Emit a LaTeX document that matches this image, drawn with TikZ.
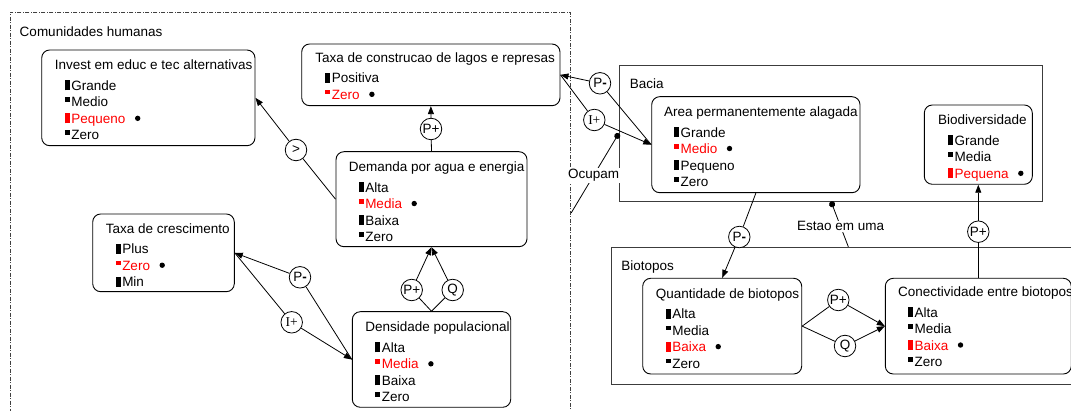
\documentclass[tikz,border=0pt]{standalone}
\usepackage{fontspec}
\setmainfont{Liberation Sans}
\newfontfamily\serfont{Liberation Serif}
\usepackage{xcolor}
\usetikzlibrary{arrows.meta, positioning}

\definecolor{qRed}{RGB}{255,0,0}
\definecolor{qFrame}{RGB}{60,60,60}

% value markers: tall bar / small square, then the current-value dot
\newcommand{\mkBar}{\rule{5pt}{10pt}}
\newcommand{\mkSq}{\rule[5pt]{5pt}{4.5pt}}
\newcommand{\itm}[2]{\hspace*{10pt}#1\hspace{1.5pt}#2}
\newcommand{\cur}{\hspace{9.5pt}\tikz[baseline=-5pt]\fill[black] (0pt,0pt) circle (2.7pt);}

\begin{document}
\begin{tikzpicture}[x=1pt, y=-1pt,
    font=\fontsize{13.5}{16.5}\selectfont,
    zone/.style={draw=qFrame, line width=0.9pt, inner sep=0pt},
    qbox/.style={draw, rounded corners=8pt, line width=0.9pt, inner sep=0pt},
    qtxt/.style={align=left, inner sep=0pt},
    rel/.style={draw, circle, fill=white, minimum size=21.5pt,
                inner sep=0pt, line width=0.8pt},
    arr/.style={-{Triangle[length=8pt, width=6pt]}, line width=0.8pt},
    dotarr/.style={-{Circle[length=6pt]}, line width=0.8pt},
    lbl/.style={fill=white, inner sep=1pt}]
\useasboundingbox (0,0) rectangle (1071,411);
\clip (0,0) rectangle (1071,411);

% ZONES
\node[zone, draw=black!75, dash pattern=on 4pt off 1.5pt on 1pt off 1.5pt,
      minimum width=560.7pt, minimum height=402pt] (comunidades) at (290.35,213) {};
\node[qtxt, below right=14.5pt and 10pt of comunidades.north west] (comunidadesLbl)
   {Comunidades humanas};
\node[zone, minimum width=423.4pt, minimum height=135.3pt] (bacia) at (831,133.35) {};
\node[qtxt, below right=13pt and 10.7pt of bacia.north west] (baciaLbl) {Bacia};
\node[zone, minimum width=473.3pt, minimum height=136.7pt] (biotopos) at (848.35,315.65) {};
\node[qtxt, below right=14pt and 10pt of biotopos.north west] (biotoposLbl) {Biotopos};

% QUANTITIES
\node[qbox, minimum width=213.3pt, minimum height=95.7pt] (invest) at (148.35,97.85) {};
\node[qtxt, below right=10.3pt and 13.5pt of invest.north west] (investTxt)
   {Invest em educ e tec alternativas\\[4pt]
    \itm{\mkBar}{Grande}\\
    \itm{\mkSq}{Medio}\\
    {\color{qRed}\itm{\mkBar}{Pequeno}}\cur\\
    \itm{\mkSq}{Zero}};

\node[qbox, minimum width=258.3pt, minimum height=61.7pt] (lagos) at (430.85,74.85) {};
\node[qtxt, below right=8.8pt and 14pt of lagos.north west] (lagosTxt)
   {Taxa de construcao de lagos e represas\\[4pt]
    \itm{\mkBar}{Positiva}\\
    {\color{qRed}\itm{\mkSq}{Zero}}\cur};

\node[qbox, minimum width=191pt, minimum height=95pt] (demanda) at (431.5,199.2) {};
\node[qtxt, below right=10.3pt and 13pt of demanda.north west] (demandaTxt)
   {Demanda por agua e energia\\[4pt]
    \itm{\mkBar}{Alta}\\
    {\color{qRed}\itm{\mkSq}{Media}}\cur\\
    \itm{\mkBar}{Baixa}\\
    \itm{\mkSq}{Zero}};

\node[qbox, minimum width=141.6pt, minimum height=77.7pt] (crescimento) at (163.5,252.85) {};
\node[qtxt, below right=9.7pt and 13.3pt of crescimento.north west] (crescimentoTxt)
   {Taxa de crescimento\\[4pt]
    \itm{\mkBar}{Plus}\\
    {\color{qRed}\itm{\mkSq}{Zero}}\cur\\
    \itm{\mkBar}{Min}};

\node[qbox, minimum width=158.4pt, minimum height=95.6pt] (densidade) at (431.5,359.5) {};
\node[qtxt, below right=10.6pt and 13.4pt of densidade.north west] (densidadeTxt)
   {Densidade populacional\\[4pt]
    \itm{\mkBar}{Alta}\\
    {\color{qRed}\itm{\mkSq}{Media}}\cur\\
    \itm{\mkBar}{Baixa}\\
    \itm{\mkSq}{Zero}};

\node[qbox, minimum width=208.3pt, minimum height=96pt] (alagada) at (755.85,144.7) {};
\node[qtxt, below right=10.3pt and 12.6pt of alagada.north west] (alagadaTxt)
   {Area permanentemente alagada\\[4pt]
    \itm{\mkBar}{Grande}\\
    {\color{qRed}\itm{\mkSq}{Medio}}\cur\\
    \itm{\mkBar}{Pequeno}\\
    \itm{\mkSq}{Zero}};

\node[qbox, minimum width=108pt, minimum height=79.3pt] (biodiv) at (978.3,144.65) {};
\node[qtxt, below right=10.3pt and 14pt of biodiv.north west] (biodivTxt)
   {Biodiversidade\\[4pt]
    \itm{\mkBar}{Grande}\\
    \itm{\mkSq}{Media}\\
    {\color{qRed}\itm{\mkBar}{Pequena}}\cur};

\node[qbox, minimum width=159pt, minimum height=95.7pt] (quantidade) at (722.2,326.15) {};
\node[qtxt, below right=10.3pt and 13.3pt of quantidade.north west] (quantidadeTxt)
   {Quantidade de biotopos\\[4pt]
    \itm{\mkBar}{Alta}\\
    \itm{\mkSq}{Media}\\
    {\color{qRed}\itm{\mkBar}{Baixa}}\cur\\
    \itm{\mkSq}{Zero}};

\node[qbox, minimum width=186pt, minimum height=95.7pt] (conectividade) at (978.3,326.15) {};
\node[qtxt, below right=8.7pt and 13pt of conectividade.north west] (conectividadeTxt)
   {Conectividade entre biotopos\\[4pt]
    \itm{\mkBar}{Alta}\\
    \itm{\mkSq}{Media}\\
    {\color{qRed}\itm{\mkBar}{Baixa}}\cur\\
    \itm{\mkSq}{Zero}};

% Dependency circles
\foreach \n/\x/\y/\t in {gtInv/296/150/>, ppLagos/431/129/P+,
                         ppDem/411.7/290/P+, qDem/452.7/290/Q,
                         pmCresc/300/277.3/P\textbf{-}, ipCresc/291.7/322.3/{\serfont I+},
                         pmLagos/600/83.3/P\textbf{-}, ipArea/594.3/120/{\serfont I+},
                         pmQuant/739.3/237/P\textbf{-}, ppConect/838.3/300/P+,
                         qConect/845/346/Q, ppBio/978.3/231.7/P+}
   \node[rel] (\n) at (\x,\y) {\t};

% Dependencies
\foreach \a/\c/\b in {demanda.west/gtInv/invest.east,
                      demanda.north/ppLagos/lagos.south,
                      densidade.north/ppDem/demanda.south,
                      densidade.north/qDem/demanda.south,
                      densidade.west/pmCresc/crescimento.east,
                      crescimento.east/ipCresc/densidade.west,
                      alagada.west/pmLagos/lagos.east,
                      lagos.east/ipArea/alagada.west,
                      alagada.south/pmQuant/quantidade.north,
                      quantidade.east/ppConect/conectividade.west,
                      quantidade.east/qConect/conectividade.west,
                      conectividade.north/ppBio/biodiv.south}
   \draw[arr] (\a) -- (\c) -- (\b);

% Structural relations
\draw[dotarr] (comunidades.east) -- node[lbl, pos=0.47] (ocupamLbl) {Ocupam} (bacia.west);
\draw[dotarr] (biotopos.north) -- node[lbl, pos=0.45] (estaoLbl) {Estao em uma} (bacia.south);

\end{tikzpicture}
\end{document}
